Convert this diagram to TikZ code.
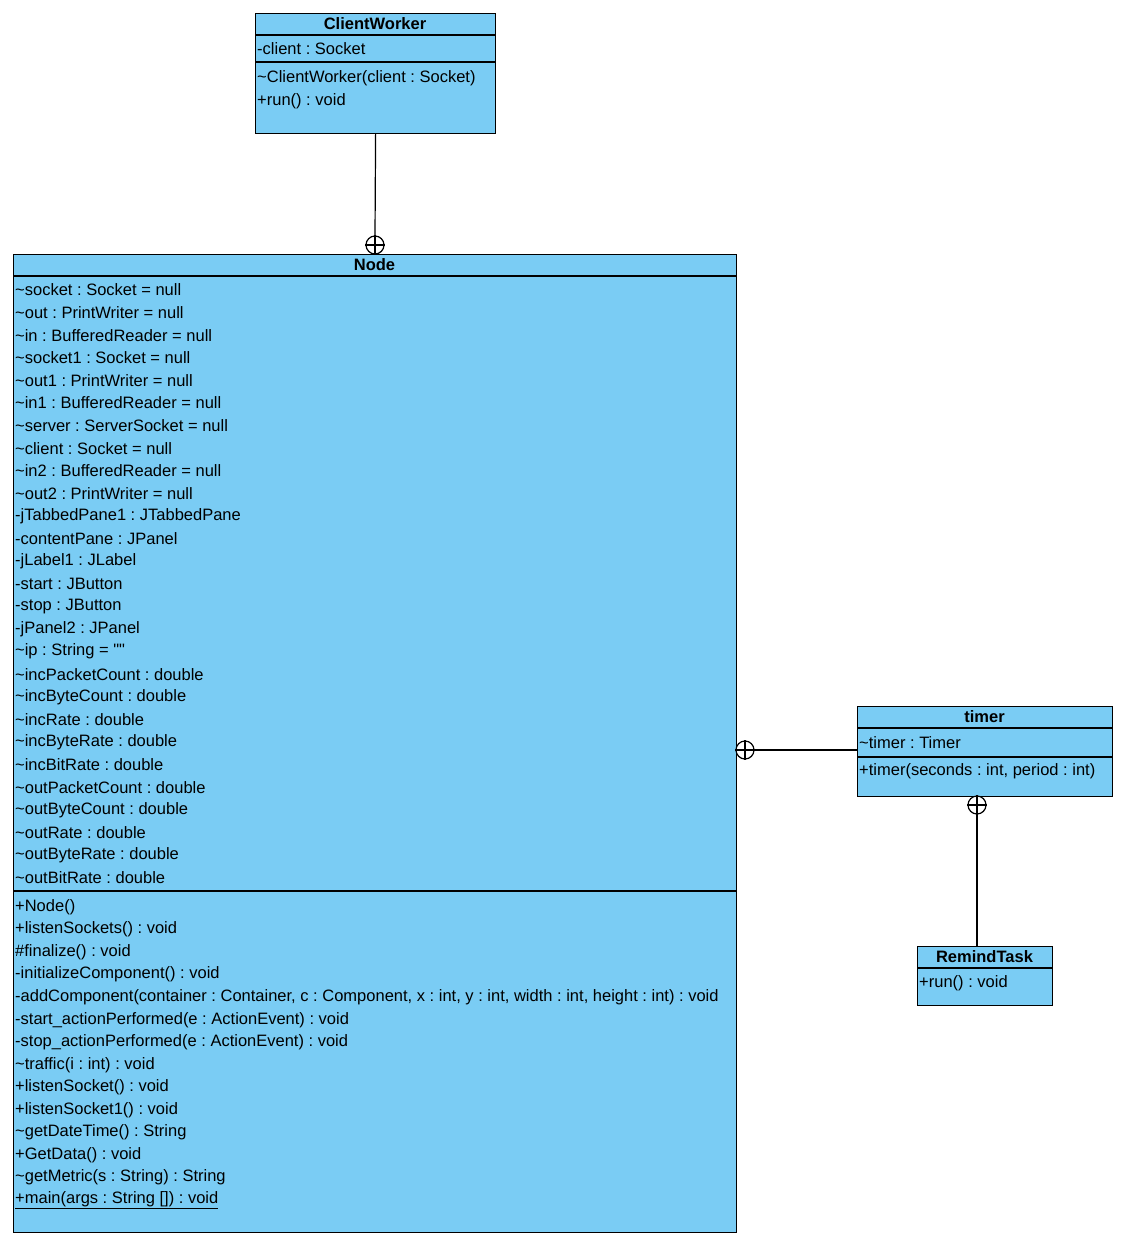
\documentclass[tikz,border=0pt]{standalone}
\usepackage{fontspec}
\setmainfont{Liberation Sans}[Ligatures=TeXOff]
\frenchspacing
\definecolor{classblue}{RGB}{122,204,244}
\newcommand{\pkgvis}{\textasciitilde}
\tikzset{
    classbox/.style={draw=black, fill=classblue, anchor=north west, inner sep=0pt, line width=1.2pt},
    member/.style={anchor=west, inner sep=0pt, font=\fontsize{16.5}{18}\selectfont},
    classname/.style={inner sep=0pt, font=\fontsize{16.5}{18}\selectfont\bfseries},
    nestdot/.style={circle, draw=black, fill=white, minimum size=18pt, inner sep=0pt, line width=1.2pt}
}

\begin{document}
\begin{tikzpicture}[x=1pt, y=-1pt]
    \useasboundingbox (0,0) rectangle (1121,1234);

    \node[classbox, minimum width=240pt, minimum height=120pt] (cw) at (255,13) {};
    \draw[line width=1.2pt] (cw.north west) ++(0,22) -- ++(240,0) ++(-240,27) -- ++(240,0);
    \node[classname] (cwname) at (375,24) {ClientWorker};
    \node[member] (cwa1) at (257,49) {-client : Socket};
    \node[member] (cwm1) at (257,78) {\pkgvis ClientWorker(client : Socket)};
    \node[member] (cwm2) at (257,101) {+run() : void};

    \node[classbox, minimum width=723pt, minimum height=978pt] (nd) at (13,254) {};
    \draw[line width=1.2pt] (nd.north west) ++(0,22) -- ++(723,0) ++(-723,615) -- ++(723,0);
    \node[classname] (ndname) at (374.5,265) {Node};
    \foreach \t [count=\i from 0] in {
        \pkgvis socket : Socket = null, \pkgvis out : PrintWriter = null,
        \pkgvis in : BufferedReader = null, \pkgvis socket1 : Socket = null,
        \pkgvis out1 : PrintWriter = null, \pkgvis in1 : BufferedReader = null,
        \pkgvis server : ServerSocket = null, \pkgvis client : Socket = null,
        \pkgvis in2 : BufferedReader = null, \pkgvis out2 : PrintWriter = null,
        -jTabbedPane1 : JTabbedPane, -contentPane : JPanel, -jLabel1 : JLabel,
        -start : JButton, -stop : JButton, -jPanel2 : JPanel,
        \pkgvis ip : String = "", \pkgvis incPacketCount : double,
        \pkgvis incByteCount : double, \pkgvis incRate : double,
        \pkgvis incByteRate : double, \pkgvis incBitRate : double,
        \pkgvis outPacketCount : double, \pkgvis outByteCount : double,
        \pkgvis outRate : double, \pkgvis outByteRate : double,
        \pkgvis outBitRate : double}
        \node[member] (nda\i) at (15,{290+22.6*\i}) {\t};
    \foreach \t [count=\i from 0] in {
        +Node(), +listenSockets() : void, \#finalize() : void,
        -initializeComponent() : void,
        {-addComponent(container : Container, c : Component, x : int, y : int, width : int, height : int) : void},
        -start\_actionPerformed(e : ActionEvent) : void,
        -stop\_actionPerformed(e : ActionEvent) : void,
        \pkgvis traffic(i : int) : void, +listenSocket() : void,
        +listenSocket1() : void, \pkgvis getDateTime() : String,
        +GetData() : void, \pkgvis getMetric(s : String) : String}
        \node[member] (ndm\i) at (15,{907+22.55*\i}) {\t};
    \node[member] (ndm13) at (15,1200) {\underline{+main(args : String []) : void}};

    \node[classbox, minimum width=255pt, minimum height=90pt] (tm) at (857,706) {};
    \draw[line width=1.2pt] (tm.north west) ++(0,22) -- ++(255,0) ++(-255,29) -- ++(255,0);
    \node[classname] (tmname) at (984.5,717) {timer};
    \node[member] (tma1) at (859,743) {\pkgvis timer : Timer};
    \node[member] (tmm1) at (859,771) {+timer(seconds : int, period : int)};

    \node[classbox, minimum width=135pt, minimum height=59pt] (rt) at (917,946) {};
    \draw[line width=1.2pt] (rt.north west) ++(0,22) -- ++(135,0);
    \node[classname] (rtname) at (984.5,957) {RemindTask};
    \node[member] (rtm1) at (919,983) {+run() : void};

    \node[nestdot] (nestcw) at (375,245) {};
    \node[nestdot] (nesttm) at (745,750) {};
    \node[nestdot] (nestrt) at (977,805) {};
    \foreach \n in {nestcw, nesttm, nestrt}
        \draw[line width=1.2pt] (\n.north) -- (\n.south) (\n.west) -- (\n.east);

    \draw[line width=1.2pt] (cw.south) -- (nestcw.north);
    \draw[line width=1.2pt] (nesttm.east) -- (nesttm.east -| tm.west);
    \draw[line width=1.2pt] (nestrt.south) -- (nestrt.south |- rt.north);
\end{tikzpicture}
\end{document}
